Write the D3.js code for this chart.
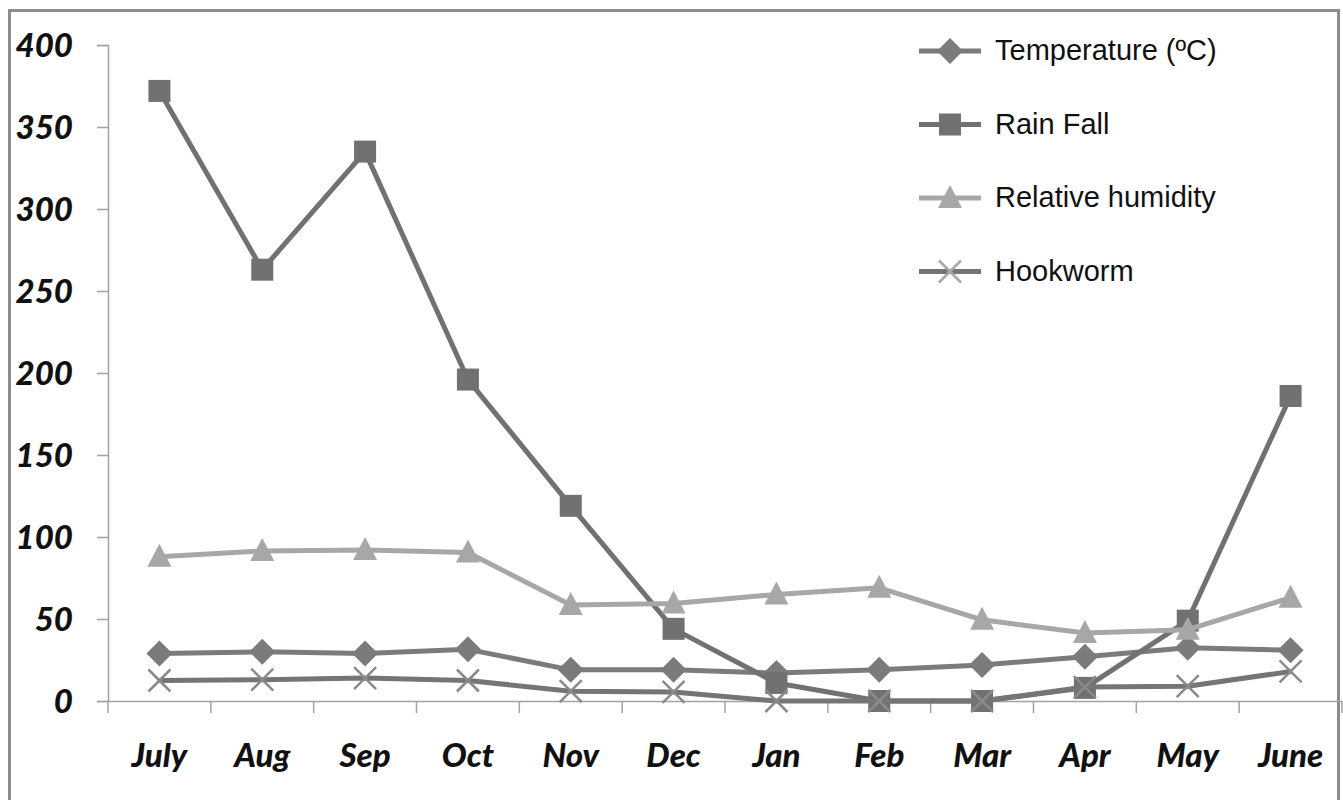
<!DOCTYPE html>
<html><head><meta charset="utf-8">
<script src="https://cdn.jsdelivr.net/npm/d3@7"></script>
<style>body{margin:0;background:#fff}svg{display:block}</style>
</head><body>
<svg id="chart" width="1343" height="800"></svg>
<script>
const months = ["July","Aug","Sep","Oct","Nov","Dec","Jan","Feb","Mar","Apr","May","June"];
const temperature = [29, 30, 29, 31.5, 19, 19, 17, 19, 22, 27, 32.5, 31];
const rainFall = [372, 263, 335, 196, 119, 44, 11, 0, 0, 8, 49, 186];
const humidity = [88, 91.5, 92, 90.5, 58.5, 59.5, 65, 69, 49.5, 41.5, 43.5, 63];
const hookworm = [12.5, 13, 14, 12.5, 6, 5.5, 0, 0, 0, 8.5, 9, 18];
const yTicks = [0, 50, 100, 150, 200, 250, 300, 350, 400];
const seriesNames = ["Temperature (ºC)", "Rain Fall", "Relative humidity", "Hookworm"];

(function(){
const series = [
  {name: seriesNames[0], values: temperature, color: "#7b7b7b", mcolor: "#7b7b7b", marker: "diamond"},
  {name: seriesNames[1], values: rainFall, color: "#717171", mcolor: "#717171", marker: "square"},
  {name: seriesNames[2], values: humidity, color: "#a7a7a7", mcolor: "#a7a7a7", marker: "triangle"},
  {name: seriesNames[3], values: hookworm, color: "#757575", mcolor: "#8a8a8a", marker: "x"}
];

const svg = d3.select("#chart");
const mLeft = 108, mRight = 1342, mTop = 45, mBottom = 701;

svg.append("rect").attr("x", 9.5).attr("y", 10.5).attr("width", 1329).attr("height", 820)
  .attr("fill", "none").attr("stroke", "#8c8c8c").attr("stroke-width", 3);

const x = d3.scaleBand().domain(months).range([mLeft, mRight]).padding(0);
const y = d3.scaleLinear().domain([0, 400]).range([mBottom, mTop]);
const cx = d => x(d) + x.bandwidth() / 2;

const axisColor = "#a3a3a3";
const fontNum = "Lato, 'Open Sans', sans-serif";

const yAxis = svg.append("g").attr("transform", `translate(${mLeft},0)`)
  .call(d3.axisLeft(y).tickValues(yTicks).tickSize(11).tickPadding(24).tickFormat(d3.format("d")));
yAxis.select(".domain").attr("stroke", axisColor).attr("stroke-width", 1.5);
yAxis.selectAll(".tick line").attr("stroke", axisColor).attr("stroke-width", 1.5);
yAxis.selectAll(".tick text").attr("font-family", fontNum).attr("font-size", 33)
  .attr("font-weight", "900").attr("font-style", "italic").attr("fill", "#111").attr("dy", "0.36em");

const xAxis = svg.append("g").attr("transform", `translate(0,${mBottom})`)
  .call(d3.axisBottom(x).tickSize(0).tickPadding(0));
xAxis.select(".domain").attr("stroke", axisColor).attr("stroke-width", 1.5);
xAxis.selectAll(".tick text").attr("font-family", fontNum).attr("font-size", 33)
  .attr("font-weight", "900").attr("font-style", "italic").attr("fill", "#111")
  .attr("y", 66).attr("dy", 0);
const bounds = months.map(m => x(m)).concat([mRight]);
xAxis.selectAll(".bnd").data(bounds).join("line").attr("class", "bnd")
  .attr("x1", d => d).attr("x2", d => d).attr("y1", 0).attr("y2", 12)
  .attr("stroke", axisColor).attr("stroke-width", 1.5);

function drawMarker(g, type, px, py, color) {
  if (type === "square") {
    g.append("rect").attr("x", px - 11).attr("y", py - 11).attr("width", 22).attr("height", 22).attr("fill", color);
  } else if (type === "diamond") {
    g.append("path").attr("d", `M${px},${py-13}L${px+13},${py}L${px},${py+13}L${px-13},${py}Z`).attr("fill", color);
  } else if (type === "triangle") {
    g.append("path").attr("d", `M${px},${py-13}L${px+12},${py+10}L${px-12},${py+10}Z`).attr("fill", color);
  } else if (type === "x") {
    g.append("path").attr("d", `M${px-11},${py-11}L${px+11},${py+11}M${px+11},${py-11}L${px-11},${py+11}`)
      .attr("stroke", color).attr("stroke-width", 2.5).attr("fill", "none");
  }
}

const line = d3.line().x((d, i) => cx(months[i])).y(d => y(d));
series.forEach(s => {
  const g = svg.append("g");
  g.append("path").datum(s.values).attr("d", line).attr("fill", "none")
    .attr("stroke", s.color).attr("stroke-width", 5).attr("stroke-linejoin", "round");
  s.values.forEach((v, i) => drawMarker(g, s.marker, cx(months[i]), y(v), s.mcolor));
});

const leg = svg.append("g");
series.forEach((s, i) => {
  const yy = 51 + i * 73.5;
  const g = leg.append("g");
  g.append("line").attr("x1", 919).attr("x2", 981).attr("y1", yy).attr("y2", yy)
    .attr("stroke", s.color).attr("stroke-width", 5);
  drawMarker(g, s.marker, 950, yy, s.marker === "x" ? "#a8a8a8" : s.mcolor);
  g.append("text").attr("x", 995).attr("y", yy + 9).attr("font-family", "'Liberation Sans', Arial, sans-serif")
    .attr("font-size", 29).attr("fill", "#111").text(s.name);
});
})();
</script>
</body></html>
